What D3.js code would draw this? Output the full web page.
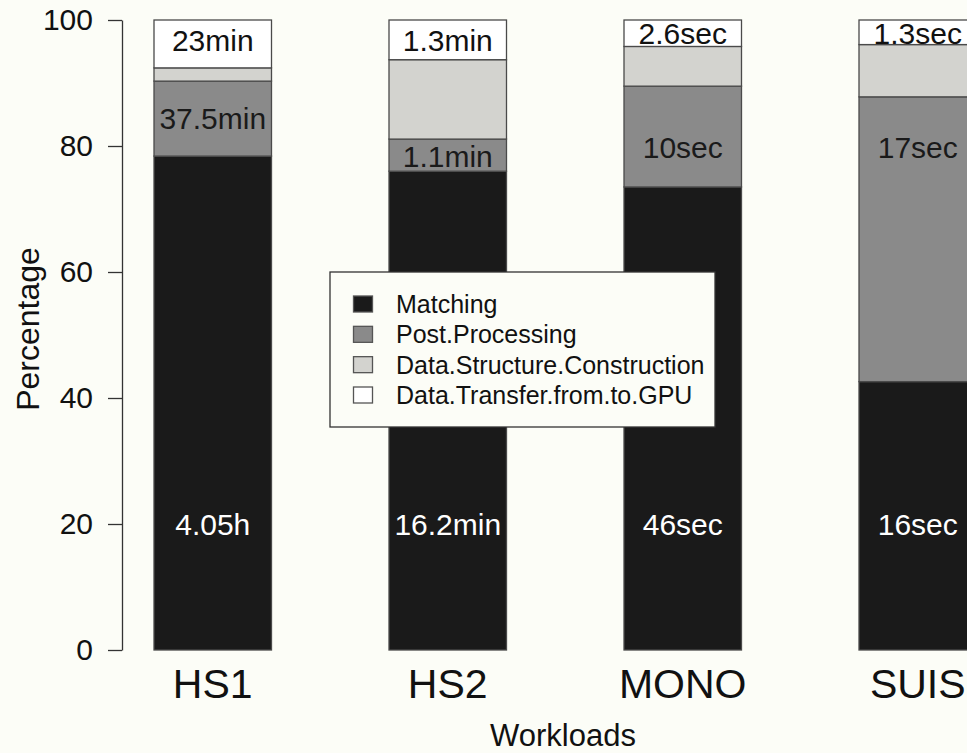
<!DOCTYPE html>
<html>
<head>
<meta charset="utf-8">
<script src="https://cdn.jsdelivr.net/npm/d3@7"></script>
<style>
  html, body { margin: 0; padding: 0; background: #fcfdf7; }
  svg { display: block; font-family: "Liberation Sans", Arial, Helvetica, sans-serif; }
</style>
</head>
<body>
<svg id="chart" width="967" height="753"></svg>
<script>
// Share of total runtime (percent) spent in each phase, per workload
const workloads = ["HS1", "HS2", "MONO", "SUIS"];
const phases = ["Matching", "Post.Processing", "Data.Structure.Construction", "Data.Transfer.from.to.GPU"];

const matching      = [78.4, 76.0, 73.5, 42.6];
const postProcessing = [11.9, 5.1, 16.0, 45.2];
const dataStructure = [2.1, 12.6, 6.3, 8.3];
const dataTransfer  = [7.6, 6.3, 4.2, 3.9];

// Absolute time annotations and the percentage level each one is written at
const matchingTimes = ["4.05h", "16.2min", "46sec", "16sec"];
const matchingAt    = [20, 20, 20, 20];
const postTimes     = ["37.5min", "1.1min", "10sec", "17sec"];
const postAt        = [84.3, 78.4, 79.7, 79.7];
const transferTimes = ["23min", "1.3min", "2.6sec", "1.3sec"];
const transferAt    = [96.8, 96.8, 97.8, 97.8];

const yTicks = [0, 20, 40, 60, 80, 100];

const phaseColors = ["#1a1a1a", "#8a8a8a", "#d3d3cf", "#ffffff"];
const bg = "#fcfdf7";
const font = 'Liberation Sans, Arial, Helvetica, sans-serif';

const rows = workloads.map((w, i) => ({
  workload: w,
  [phases[0]]: matching[i],
  [phases[1]]: postProcessing[i],
  [phases[2]]: dataStructure[i],
  [phases[3]]: dataTransfer[i]
}));

const svg = d3.select("#chart");

const x = d3.scaleBand()
  .domain(workloads)
  .range([95.25, 1035.25])
  .paddingInner(0.5)
  .paddingOuter(0.25);

const y = d3.scaleLinear().domain([0, 100]).range([650, 20]);

const stacked = d3.stack().keys(phases)(rows);
const color = d3.scaleOrdinal().domain(phases).range(phaseColors);

// Stacked bars
svg.append("g")
  .selectAll("g")
  .data(stacked)
  .join("g")
  .attr("fill", d => color(d.key))
  .selectAll("rect")
  .data(d => d)
  .join("rect")
  .attr("x", d => x(d.data.workload))
  .attr("y", d => y(d[1]))
  .attr("width", x.bandwidth())
  .attr("height", d => y(d[0]) - y(d[1]))
  .attr("stroke", "#4a4a4a")
  .attr("stroke-width", 1.3);

// Time annotations inside the segments
function annotate(texts, at, fill) {
  svg.append("g")
    .selectAll("text")
    .data(workloads)
    .join("text")
    .attr("x", w => x(w) + x.bandwidth() / 2)
    .attr("y", (w, i) => y(at[i]))
    .attr("text-anchor", "middle")
    .attr("dominant-baseline", "central")
    .attr("font-size", 30)
    .attr("fill", fill)
    .text((w, i) => texts[i]);
}
annotate(matchingTimes, matchingAt, "#ffffff");
annotate(postTimes, postAt, "#1a1a1a");
annotate(transferTimes, transferAt, "#111111");

// Y axis
const yAxis = svg.append("g")
  .attr("transform", "translate(122,0)")
  .call(d3.axisLeft(y).tickValues(yTicks).tickSize(14).tickSizeOuter(0).tickPadding(15));
yAxis.select(".domain").attr("stroke", "#333").attr("stroke-width", 1.3);
yAxis.selectAll(".tick line").attr("stroke", "#333").attr("stroke-width", 1.3);
yAxis.selectAll(".tick text")
  .attr("font-family", font)
  .attr("font-size", 30)
  .attr("fill", "#111");

// Category labels
svg.append("g")
  .selectAll("text")
  .data(workloads)
  .join("text")
  .attr("x", w => x(w) + x.bandwidth() / 2)
  .attr("y", 698)
  .attr("text-anchor", "middle")
  .attr("font-size", 41)
  .attr("fill", "#111")
  .text(w => w);

// Axis titles
svg.append("text")
  .attr("x", 563)
  .attr("y", 746)
  .attr("text-anchor", "middle")
  .attr("font-size", 31)
  .attr("fill", "#111")
  .text("Workloads");

svg.append("text")
  .attr("transform", "translate(39,329) rotate(-90)")
  .attr("text-anchor", "middle")
  .attr("font-size", 32)
  .attr("fill", "#111")
  .text("Percentage");

// Legend
const legend = svg.append("g");
legend.append("rect")
  .attr("x", 330).attr("y", 272)
  .attr("width", 385).attr("height", 155)
  .attr("fill", bg)
  .attr("stroke", "#333")
  .attr("stroke-width", 1.3);

const legendRow = d3.scalePoint().domain(phases).range([304, 395]);
const items = legend.selectAll("g.item")
  .data(phases)
  .join("g")
  .attr("class", "item")
  .attr("transform", p => `translate(0,${legendRow(p)})`);
items.append("rect")
  .attr("x", 353.5).attr("y", -8)
  .attr("width", 19).attr("height", 16)
  .attr("fill", p => color(p))
  .attr("stroke", "#555")
  .attr("stroke-width", 1.3);
items.append("text")
  .attr("x", 396)
  .attr("y", 0)
  .attr("dominant-baseline", "central")
  .attr("font-size", 25)
  .attr("fill", "#111")
  .text(p => p);
</script>
</body>
</html>
